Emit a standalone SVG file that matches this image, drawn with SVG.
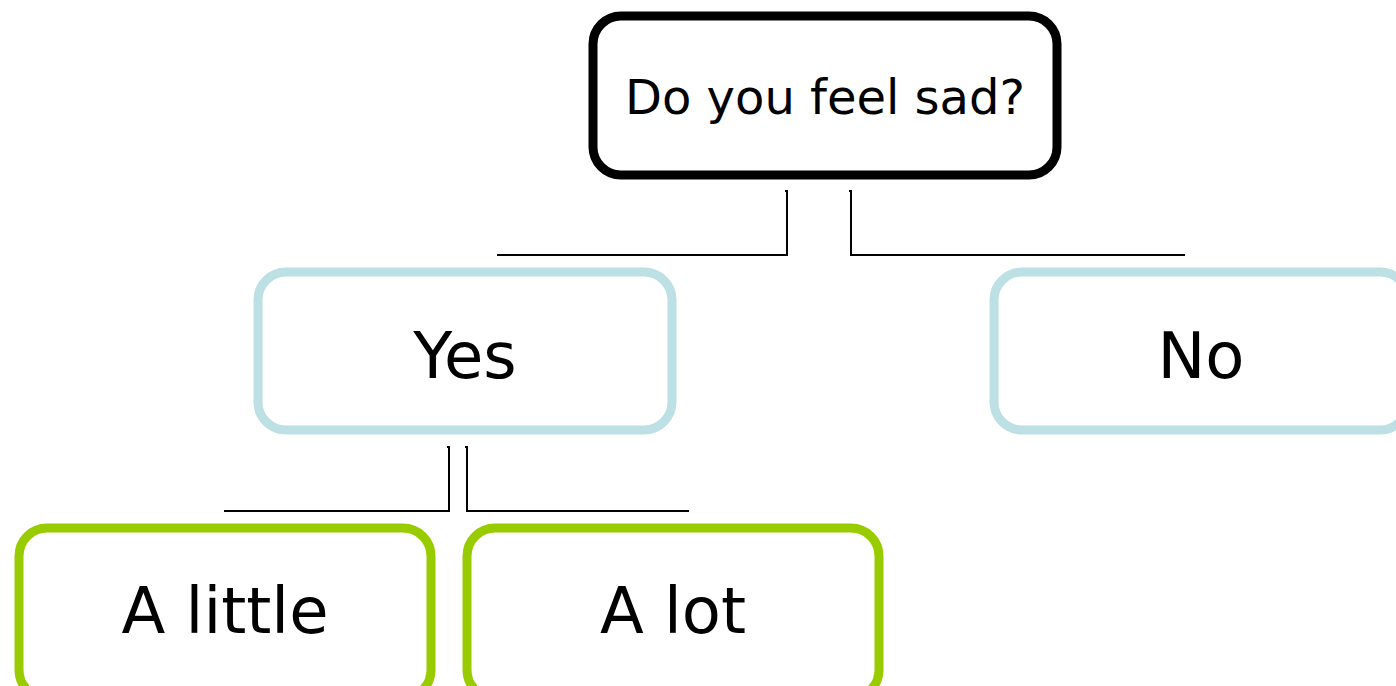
<svg xmlns="http://www.w3.org/2000/svg" width="1396" height="686" viewBox="0 0 1396 686">
<style>
.box{fill:#ffffff;}
.q{stroke:#000000;stroke-width:9;}
.blue{stroke:#bce0e3;stroke-width:9;}
.green{stroke:#99cc00;stroke-width:9;}
text{font-family:"DejaVu Sans","Liberation Sans",sans-serif;fill:#000000;text-anchor:middle;}
.conn{fill:none;stroke:#000000;stroke-width:2;}
</style>
<rect width="1396" height="686" fill="#ffffff"/>
<g id="connectors">
<polyline class="conn" points="785,191 787,191 787,255 497,255"/>
<polyline class="conn" points="849,191 851,191 851,255 1185,255"/>
<polyline class="conn" points="447,447 449,447 449,511 224,511"/>
<polyline class="conn" points="465,447 467,447 467,511 689,511"/>
</g>
<g id="node-question">
<rect class="box q" x="593" y="16" width="464" height="159" rx="28"/>
<text x="825" y="114" font-size="48">Do you feel sad?</text>
</g>
<g id="node-yes">
<rect class="box blue" x="258" y="272" width="414" height="158" rx="28"/>
<text x="465" y="378" font-size="64">Yes</text>
</g>
<g id="node-no">
<rect class="box blue" x="994" y="272" width="414" height="158" rx="28"/>
<text x="1201" y="378" font-size="64">No</text>
</g>
<g id="node-little">
<rect class="box green" x="19" y="528" width="412" height="170" rx="28"/>
<text x="225" y="633" font-size="64">A little</text>
</g>
<g id="node-lot">
<rect class="box green" x="467" y="528" width="412" height="170" rx="28"/>
<text x="673" y="633" font-size="64">A lot</text>
</g>
</svg>
